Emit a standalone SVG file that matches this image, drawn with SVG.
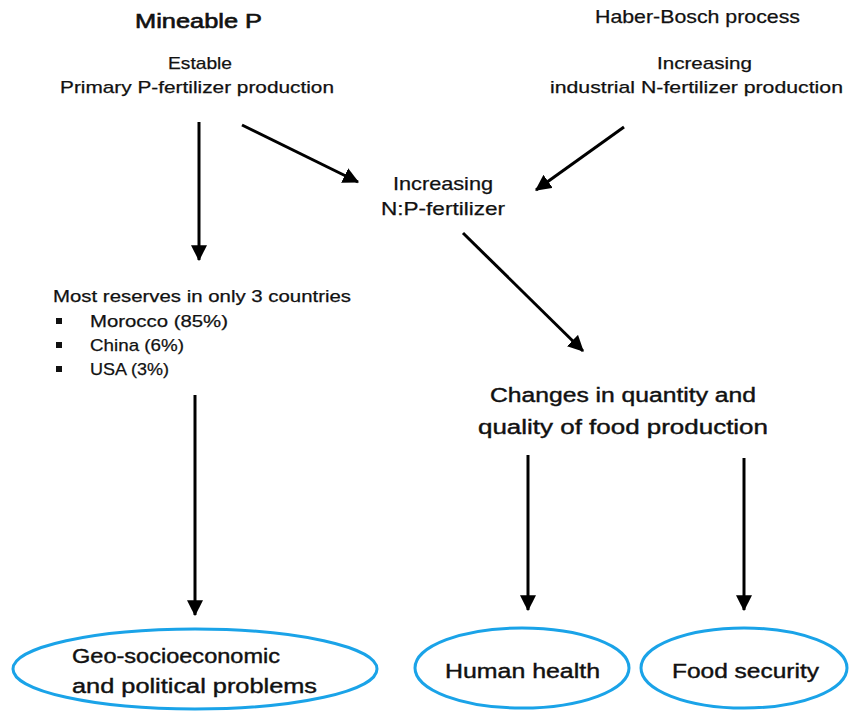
<svg xmlns="http://www.w3.org/2000/svg" width="849" height="715" viewBox="0 0 849 715">
<defs>
<marker id="ah" markerUnits="userSpaceOnUse" markerWidth="16" markerHeight="16" viewBox="0 0 14 14" refX="13" refY="7" orient="auto">
<path d="M0,0 L14,7 L0,14 z" fill="#000"/>
</marker>
<style>
text{font-family:"Liberation Sans",Arial,sans-serif;fill:#111;stroke:#111;stroke-width:0.25px;}
.t{font-size:17px;}
.h{font-size:20px;stroke-width:0.6px;}
.m{font-size:18.5px;}
.b{font-size:20px;stroke-width:0.4px;}
.line{stroke:#000;stroke-width:3;fill:none;marker-end:url(#ah);}
.ell{fill:none;stroke:#1aa3e8;stroke-width:3;}
</style>
</defs>
<rect width="849" height="715" fill="#fff"/>
<g id="connectors">
<line class="line" x1="199" y1="122" x2="199" y2="260"/>
<line class="line" x1="242" y1="125" x2="358" y2="182"/>
<line class="line" x1="624" y1="127" x2="536" y2="190"/>
<line class="line" x1="463" y1="233" x2="583" y2="351"/>
<line class="line" x1="195" y1="395" x2="195" y2="615"/>
<line class="line" x1="528" y1="455" x2="528" y2="610"/>
<line class="line" x1="744" y1="458" x2="744" y2="610"/>
</g>
<g id="mineable">
<text class="h" x="135" y="28" textLength="127" lengthAdjust="spacingAndGlyphs">Mineable  P</text>
<text class="t" x="168" y="69" textLength="64" lengthAdjust="spacingAndGlyphs">Estable</text>
<text class="t" x="60" y="93" textLength="274" lengthAdjust="spacingAndGlyphs">Primary P-fertilizer production</text>
</g>
<g id="haber">
<text class="m" x="595" y="23" textLength="205" lengthAdjust="spacingAndGlyphs">Haber-Bosch process</text>
<text class="t" x="657" y="69" textLength="95" lengthAdjust="spacingAndGlyphs">Increasing</text>
<text class="t" x="550" y="93" textLength="293" lengthAdjust="spacingAndGlyphs">industrial N-fertilizer production</text>
</g>
<g id="np">
<text class="m" x="393" y="190" textLength="100" lengthAdjust="spacingAndGlyphs">Increasing</text>
<text class="m" x="381" y="215" textLength="124" lengthAdjust="spacingAndGlyphs">N:P-fertilizer</text>
</g>
<g id="reserves">
<text class="t" x="53" y="302" textLength="298" lengthAdjust="spacingAndGlyphs">Most reserves in only 3 countries</text>
<rect x="56" y="318" width="6" height="6" fill="#111"/>
<rect x="56" y="342" width="6" height="6" fill="#111"/>
<rect x="56" y="366" width="6" height="6" fill="#111"/>
<text class="t" x="90" y="327" textLength="138" lengthAdjust="spacingAndGlyphs">Morocco (85%)</text>
<text class="t" x="90" y="351" textLength="94" lengthAdjust="spacingAndGlyphs">China (6%)</text>
<text class="t" x="90" y="375" textLength="79" lengthAdjust="spacingAndGlyphs">USA (3%)</text>
</g>
<g id="changes">
<text class="b" x="490" y="402" textLength="266" lengthAdjust="spacingAndGlyphs">Changes  in quantity and</text>
<text class="b" x="478" y="434" textLength="290" lengthAdjust="spacingAndGlyphs">quality  of food  production</text>
</g>
<g id="geo">
<ellipse class="ell" cx="195" cy="669" rx="182" ry="40"/>
<text class="b" x="72" y="663" textLength="208" lengthAdjust="spacingAndGlyphs">Geo-socioeconomic</text>
<text class="b" x="72" y="693" textLength="245" lengthAdjust="spacingAndGlyphs">and  political  problems</text>
</g>
<g id="health">
<ellipse class="ell" cx="522" cy="668" rx="107" ry="40"/>
<text class="b" x="445" y="678" textLength="155" lengthAdjust="spacingAndGlyphs">Human health</text>
</g>
<g id="food">
<ellipse class="ell" cx="744" cy="668" rx="103" ry="40"/>
<text class="b" x="672" y="678" textLength="147" lengthAdjust="spacingAndGlyphs">Food security</text>
</g>
</svg>
